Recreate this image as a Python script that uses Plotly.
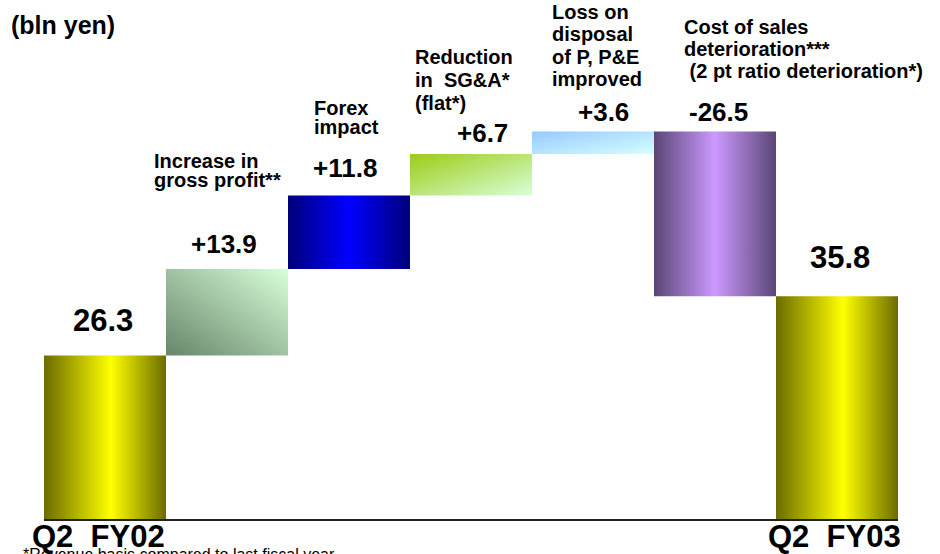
import plotly.graph_objects as go

# ---------------- data ----------------
categories = ["Q2 FY02", "Increase in gross profit", "Forex impact",
              "Reduction in SG&A", "Loss on disposal of P, P&E",
              "Cost of sales deterioration", "Q2 FY03"]
values = [26.3, 13.9, 11.8, 6.7, 3.6, -26.5, 35.8]
measures = ["absolute", "relative", "relative", "relative", "relative", "relative", "total"]
value_labels = ["26.3", "+13.9", "+11.8", "+6.7", "+3.6", "-26.5", "35.8"]
category_labels = [
    None,
    ["Increase in", "gross profit**"],
    ["Forex", "impact"],
    ["Reduction", "in\u00a0\u00a0SG&A*", "(flat*)"],
    ["Loss on", "disposal", "of P, P&E", "improved"],
    ["Cost of sales", "deterioration***", "\u00a0(2 pt ratio deterioration*)"],
    None,
]
end_labels = ["Q2\u00a0\u00a0FY02", "Q2\u00a0\u00a0FY03"]
unit_label = "(bln yen)"
footnote = "*Revenue basis compared to last fiscal year"

# ---------------- waterfall geometry from data ----------------
lows, highs = [], []
run = 0.0
for v, m in zip(values, measures):
    if m == "absolute":
        lo, hi = 0.0, v
        run = v
    elif m == "total":
        lo, hi = 0.0, v
    else:
        lo, hi = min(run, run + v), max(run, run + v)
        run += v
    lows.append(lo)
    highs.append(hi)

# ---------------- styles ----------------
FONT = "Liberation Sans, Arial, sans-serif"
YEL = [[0, "#6b6b00"], [0.55, "#ffff00"], [1, "#6b6b00"]]
styles = [
    dict(kind="h", scale=YEL),
    dict(kind="diag", up=True, c0="#67856a", c1="#d8ffd8"),
    dict(kind="h", scale=[[0, "#00007a"], [0.5, "#0000ff"], [1, "#00007a"]]),
    dict(kind="diag", up=False, c0="#9ccb14", c1="#d8ffd8"),
    dict(kind="diag", up=False, c0="#96c8ff", c1="#d4ffff"),
    dict(kind="h", scale=[[0, "#5a4676"], [0.5, "#cc99ff"], [1, "#5a4676"]]),
    dict(kind="h", scale=YEL),
]
striped = [1, 3, 4]


def hex2rgb(h):
    h = h.lstrip("#")
    return tuple(int(h[i:i + 2], 16) for i in (0, 2, 4))


def lerp(c0, c1, t):
    a, b = hex2rgb(c0), hex2rgb(c1)
    return "rgb(%d,%d,%d)" % tuple(round(a[k] + (b[k] - a[k]) * t) for k in range(3))


fig = go.Figure()

for i, (lo, hi, st) in enumerate(zip(lows, highs, styles)):
    xl, xr = i - 0.5, i + 0.5
    if st["kind"] == "h":
        fig.add_trace(go.Scatter(
            x=[xl, xr, xr, xl, xl], y=[lo, lo, hi, hi, lo],
            mode="lines", line=dict(width=0), fill="toself",
            fillgradient=dict(type="horizontal", colorscale=st["scale"]),
            hoverinfo="skip", showlegend=False))
    else:
        N = 20
        h = hi - lo
        for k in range(N):
            y0 = lo + h * k / N
            y1 = min(hi, lo + h * (k + 1.6) / N)
            v = (k + 0.5) / N
            vv = v if st["up"] else 1 - v
            cl = lerp(st["c0"], st["c1"], vv / 2)
            cr = lerp(st["c0"], st["c1"], (1 + vv) / 2)
            fig.add_trace(go.Scatter(
                x=[xl, xr, xr, xl, xl], y=[y0, y0, y1, y1, y0],
                mode="lines", line=dict(width=0), fill="toself",
                fillgradient=dict(type="horizontal", colorscale=[[0, cl], [1, cr]]),
                hoverinfo="skip", showlegend=False))

# subtle diagonal stripe texture on the light bars
fig.add_trace(go.Bar(
    x=[i for i in striped], base=[lows[i] for i in striped],
    y=[highs[i] - lows[i] for i in striped], width=1,
    marker=dict(color="rgba(0,0,0,0)", line=dict(width=0),
                pattern=dict(shape="\\", fgcolor="rgba(255,255,255,0.35)",
                             size=5, solidity=0.3, fillmode="overlay")),
    hoverinfo="skip", showlegend=False))

# ---------------- annotations ----------------
ann = []
val_yshift = [35, 25, 28, 21, 19.5, 19.5, 39]
val_xshift = [-2, -3, -4, 11, 10, 3, 3]
val_size = [31, 26, 26, 26, 26, 26, 31]
for i, t in enumerate(value_labels):
    ann.append(dict(x=i, y=highs[i], xref="x", yref="y", text=t, showarrow=False,
                    xanchor="center", yanchor="middle",
                    yshift=val_yshift[i], xshift=val_xshift[i],
                    font=dict(family=FONT, size=val_size[i], color="black", weight="bold")))

L, R, T, B = 44, 42, 20, 35
W, H = 940, 554
PW, PH = W - L - R, H - T - B
BASE = H - B


def px(xp):
    return (xp - L) / PW


def py(yp):
    return (BASE - yp) / PH


label_pos = [None, (152, 161, 19), (312, 108, 19), (413, 57, 23),
             (550, 12, 22.5), (682, 27, 22), None]
for lines, pos in zip(category_labels, label_pos):
    if not lines:
        continue
    x0, y0, dy = pos
    for j, line in enumerate(lines):
        ann.append(dict(x=px(x0), y=py(y0 + j * dy), xref="paper", yref="paper",
                        text=line, showarrow=False, xanchor="left", yanchor="middle",
                        font=dict(family=FONT, size=20, color="black", weight="bold")))

for idx, t, xs in [(0, end_labels[0], -7), (len(values) - 1, end_labels[1], -3)]:
    ann.append(dict(x=idx, y=0, xref="x", yref="paper", text=t, showarrow=False,
                    xanchor="center", yanchor="middle", yshift=-17, xshift=xs,
                    font=dict(family=FONT, size=31, color="black", weight="bold")))

ann.append(dict(x=px(9), y=py(25), xref="paper", yref="paper", text=unit_label,
                showarrow=False, xanchor="left", yanchor="middle",
                font=dict(family=FONT, size=25, color="black", weight="bold")))
ann.append(dict(x=px(21), y=py(554.7), xref="paper", yref="paper", text=footnote,
                showarrow=False, xanchor="left", yanchor="middle",
                font=dict(family=FONT, size=16, color="black")))

fig.update_layout(
    width=W, height=H,
    margin=dict(l=L, r=R, t=T, b=B),
    paper_bgcolor="white", plot_bgcolor="white",
    showlegend=False, barmode="overlay",
    xaxis=dict(range=[-0.5, 6.5], showgrid=False, zeroline=False,
               showticklabels=False, ticks="", showline=True,
               linecolor="#222222", linewidth=2, fixedrange=True),
    yaxis=dict(range=[0, PH / 6.22], visible=False, fixedrange=True),
    annotations=ann,
)

fig.write_html("out.html", config={"displayModeBar": False})
